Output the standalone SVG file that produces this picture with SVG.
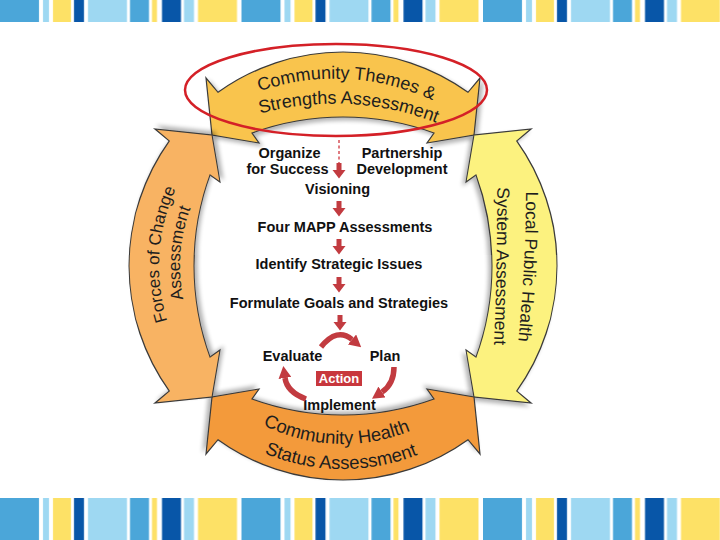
<svg xmlns="http://www.w3.org/2000/svg" width="720" height="540" viewBox="0 0 720 540">
<defs>
<style>
.bt{font-family:'Liberation Sans',Arial,Helvetica,sans-serif;fill:#1e1e1e;text-anchor:middle}
.ct{font-family:'Liberation Sans',Arial,Helvetica,sans-serif;font-weight:bold;font-size:14.5px;fill:#111;text-anchor:middle}
.band{stroke:#3a3a3a;stroke-width:1.2;stroke-linejoin:miter;filter:url(#shadow)}
.cyc{fill:none;stroke:#c23b40;stroke-width:5.5;marker-end:url(#ah)}
.da{fill:#c23b40}
</style>
<pattern id="stripes" patternUnits="userSpaceOnUse" x="0" y="0" width="241.5" height="60">
<rect x="0" y="0" width="39" height="60" fill="#4ba6d9"/>
<rect x="43" y="0" width="6" height="60" fill="#9ed8f2"/>
<rect x="53" y="0" width="18" height="60" fill="#fde166"/>
<rect x="74" y="0" width="10" height="60" fill="#0856a8"/>
<rect x="88" y="0" width="39" height="60" fill="#9ed8f2"/>
<rect x="130" y="0" width="19" height="60" fill="#4ba6d9"/>
<rect x="152" y="0" width="5" height="60" fill="#fde166"/>
<rect x="162" y="0" width="19" height="60" fill="#0856a8"/>
<rect x="184" y="0" width="10" height="60" fill="#9ed8f2"/>
<rect x="198" y="0" width="39" height="60" fill="#fde166"/>
</pattern>
<filter id="shadow" x="-15%" y="-15%" width="140%" height="140%">
<feGaussianBlur in="SourceAlpha" stdDeviation="2"/>
<feOffset dx="3" dy="3"/>
<feComponentTransfer><feFuncA type="linear" slope="0.3"/></feComponentTransfer>
<feMerge><feMergeNode/><feMergeNode in="SourceGraphic"/></feMerge>
</filter>
<path id="bandshape" d="M -137 -188 L -125 -173.7 A 214 214 0 0 1 125 -173.7 L 137 -188 L 131 -131 L 84 -123 L 91 -133 A 267 267 0 0 0 -91 -133 L -84 -123 L -131 -131 Z"/>
<marker id="ah" markerUnits="userSpaceOnUse" viewBox="0 0 12 13" markerWidth="12" markerHeight="13" refX="0" refY="6.5" orient="auto">
<path d="M0,0 L12,6.5 L0,13 Z" fill="#c23b40"/>
</marker>
<path id="darrow" d="M -2.5 0 H 2.5 V 7 H 6.5 L 0 15.5 L -6.5 7 H -2.5 Z"/>
<path id="p-t1" d="M 147 195.4 A 230 230 0 0 1 547 195.4"/>
<path id="p-t2" d="M 149 188.04 A 280 280 0 0 1 549 188.04"/>
<path id="p-l1" d="M 251 425.35 A 184 184 0 0 1 251 106.65"/>
<path id="p-l2" d="M 261.5 407.2 A 163 163 0 0 1 261.5 124.8"/>
<path id="p-r1" d="M 524.6 116 Q 531.1 266 509 416"/>
<path id="p-r2" d="M 496 116 Q 500 266 490 416"/>
<path id="p-b1" d="M 188.85 355 A 178 178 0 0 0 497.15 355"/>
<path id="p-b2" d="M 167.2 367.5 A 203 203 0 0 0 518.8 367.5"/>
</defs>
<rect x="0" y="0" width="720" height="540" fill="#ffffff"/>
<g id="stripe-bars">
<rect x="0" y="0" width="720" height="22" fill="url(#stripes)"/>
<rect x="0" y="498" width="720" height="42" fill="url(#stripes)"/>
</g>
<g id="community-themes-strengths">
<use href="#bandshape" class="band" fill="#f9c44e" transform="translate(343,266)"/>
<text class="bt" font-size="18" transform="rotate(3 347 79)"><textPath href="#p-t1" startOffset="50%">Community Themes &amp;</textPath></text>
<text class="bt" font-size="18" transform="rotate(3 349 104)"><textPath href="#p-t2" startOffset="50%">Strengths Assessment</textPath></text>
</g>
<g id="local-public-health-system">
<use href="#bandshape" class="band" fill="#fcf27f" transform="translate(343,266) rotate(90)"/>
<text class="bt" font-size="17.5"><textPath href="#p-r1" startOffset="50%">Local Public Health</textPath></text>
<text class="bt" font-size="17.5"><textPath href="#p-r2" startOffset="50%">System Assessment</textPath></text>
</g>
<g id="community-health-status">
<use href="#bandshape" class="band" fill="#f39a3b" transform="translate(343,266) rotate(180)"/>
<text class="bt" font-size="18.5" transform="rotate(2.25 343 266)"><textPath href="#p-b1" startOffset="50%">Community Health</textPath></text>
<text class="bt" font-size="18.5" transform="rotate(0.6 343 266)"><textPath href="#p-b2" startOffset="50%">Status Assessment</textPath></text>
</g>
<g id="forces-of-change">
<use href="#bandshape" class="band" fill="#f8b363" transform="translate(343,266) rotate(-90)"/>
<text class="bt" font-size="17" transform="rotate(3.7 343 266)"><textPath href="#p-l1" startOffset="50%">Forces of Change</textPath></text>
<text class="bt" font-size="17" transform="rotate(4.5 343 266)"><textPath href="#p-l2" startOffset="50%">Assessment</textPath></text>
</g>
<g id="organize"><text class="ct" x="289.5" y="158">Organize</text><text class="ct" x="287.5" y="174">for Success</text></g>
<g id="partnership"><text class="ct" x="402" y="158">Partnership</text><text class="ct" x="402" y="174">Development</text></g>
<g id="visioning"><text class="ct" x="337.5" y="194">Visioning</text></g>
<g id="four-mapp"><text class="ct" x="345" y="232">Four MAPP Assessments</text></g>
<g id="strategic-issues"><text class="ct" x="339" y="269">Identify Strategic Issues</text></g>
<g id="goals-strategies"><text class="ct" x="339" y="308">Formulate Goals and Strategies</text></g>
<g id="evaluate"><text class="ct" x="292.5" y="361">Evaluate</text></g>
<g id="plan"><text class="ct" x="385" y="361">Plan</text></g>
<g id="implement"><text class="ct" x="339.5" y="410">Implement</text></g>
<g id="action">
<rect x="316" y="371" width="46" height="15" fill="#c8373d"/>
<text x="339" y="383" font-family="'Liberation Sans',Arial,sans-serif" font-weight="bold" font-size="13" fill="#ffffff" text-anchor="middle">Action</text>
</g>
<g id="connectors">
<line x1="339" y1="140" x2="339" y2="163" stroke="#e07b80" stroke-width="2" stroke-dasharray="3 2.5"/>
<use href="#darrow" class="da" x="339" y="163"/>
<use href="#darrow" class="da" x="339" y="201"/>
<use href="#darrow" class="da" x="339" y="239"/>
<use href="#darrow" class="da" x="339" y="277"/>
<use href="#darrow" class="da" x="340" y="315"/>
<path class="cyc" d="M 321 347 Q 337 327 352 339.5"/>
<path class="cyc" d="M 394 367 Q 394 384 382 392"/>
<path class="cyc" d="M 306 399 Q 287 392 285 378"/>
</g>
<g id="highlight">
<ellipse cx="336" cy="90" rx="151" ry="46" fill="none" stroke="#d42027" stroke-width="2.5"/>
</g>
</svg>
